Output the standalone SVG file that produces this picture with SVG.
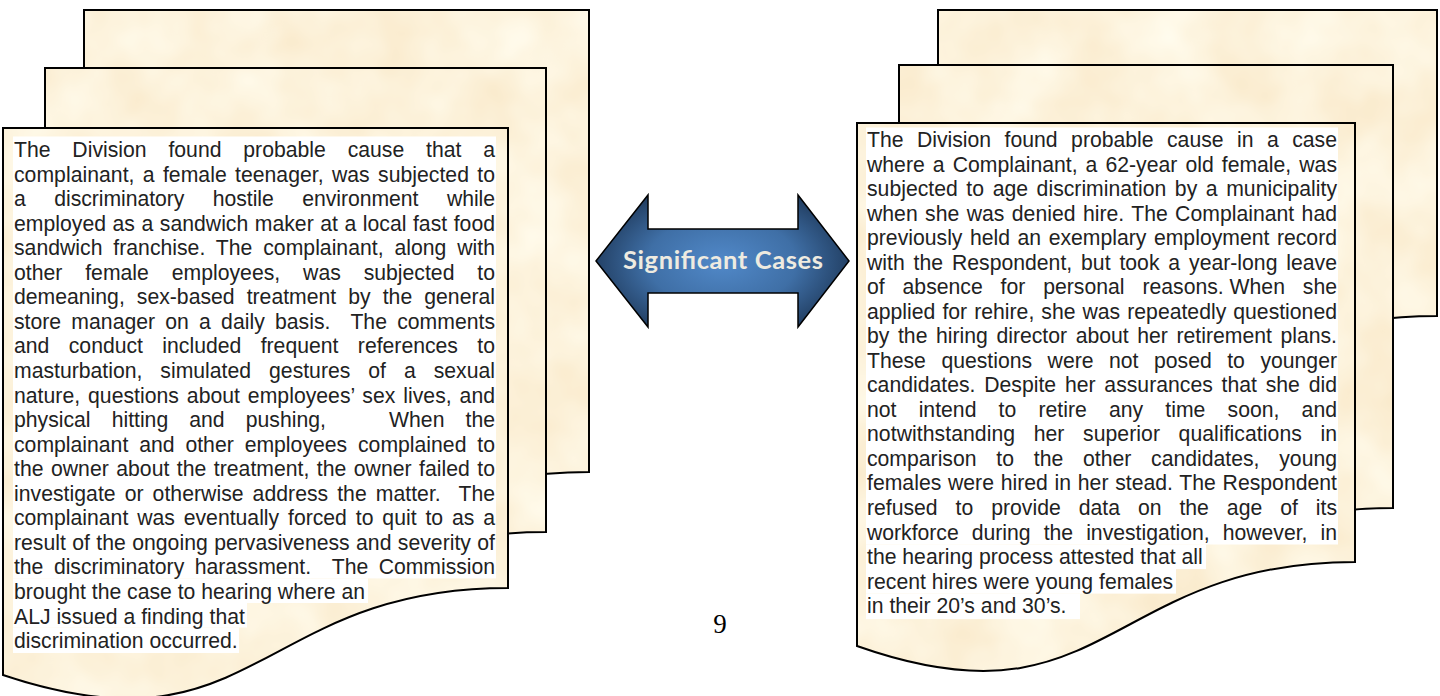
<svg xmlns="http://www.w3.org/2000/svg" width="1440" height="696" viewBox="0 0 1440 696">
<style>
.sheet{fill:#fff;filter:url(#tex)}
.edge{fill:none;stroke:#000;stroke-width:2;stroke-linejoin:miter}
.hl{fill:#fff}
.body{font-family:"Liberation Sans",Arial,sans-serif;font-size:21.2px;fill:#222}
.lbl{font-family:Lato,"Open Sans",sans-serif;font-weight:bold;font-size:25.5px;fill:#eeebe0}
.pg{font-family:"Liberation Serif","Times New Roman",serif;font-size:27px;fill:#000}
</style>
<defs>
<filter id="tex" x="0" y="0" width="1" height="1" color-interpolation-filters="sRGB">
<feTurbulence type="fractalNoise" baseFrequency="0.014" numOctaves="3" seed="7" result="n"/>
<feColorMatrix in="n" type="matrix" values="0.03 0 0 0 0.975  0.09 0 0 0 0.905  0.17 0 0 0 0.775  0 0 0 0 1" result="c"/>
<feComposite in="c" in2="SourceAlpha" operator="in"/>
</filter>
<radialGradient id="blue" gradientUnits="userSpaceOnUse" cx="722" cy="262" r="135" gradientTransform="translate(722 262) scale(1 0.6) translate(-722 -262)">
<stop offset="0" stop-color="#5189c9"/>
<stop offset="0.55" stop-color="#3f6fa6"/>
<stop offset="1" stop-color="#1f3a5c"/>
</radialGradient>
</defs>

<g id="left-stack">
<g id="left-back-sheet">
<path class="sheet" d="M84,10 H589 V472 C336,472 336,644 84,559 Z"/>
<path class="edge" d="M84,10 H589 V472 C336,472 336,644 84,559 Z"/>
</g>
<g id="left-middle-sheet">
<path class="sheet" d="M45,68 H546 V532 C295,532 295,704 45,619 Z"/>
<path class="edge" d="M45,68 H546 V532 C295,532 295,704 45,619 Z"/>
</g>
<g id="left-front-sheet">
<path class="sheet" d="M3,128 H508 V588 C256,588 256,760 3,675 Z"/>
<path class="edge" d="M3,128 H508 V588 C256,588 256,760 3,675 Z"/>
<rect class="hl" x="13" y="136.5" width="483" height="441.9"/>
<rect class="hl" x="13" y="578.4" width="355" height="24.6"/>
<rect class="hl" x="13" y="602.9" width="234" height="24.6"/>
<rect class="hl" x="13" y="627.5" width="226" height="25.5"/>
<g class="body">
<text x="14" y="157" word-spacing="15.9" textLength="481">The Division found probable cause that a</text>
<text x="14" y="181.6" word-spacing="2.4" textLength="481">complainant, a female teenager, was subjected to</text>
<text x="14" y="206.1" word-spacing="22.7" textLength="481">a discriminatory hostile environment while</text>
<text x="14" y="230.7" word-spacing="0.6" textLength="481">employed as a sandwich maker at a local fast food</text>
<text x="14" y="255.2" word-spacing="5" textLength="481">sandwich franchise. The complainant, along with</text>
<text x="14" y="279.8" word-spacing="17" textLength="481">other female employees, was subjected to</text>
<text x="14" y="304.3" word-spacing="6.2" textLength="481">demeaning, sex-based treatment by the general</text>
<text x="14" y="328.9" word-spacing="4.3" textLength="481" xml:space="preserve">store manager on a daily basis.  The comments</text>
<text x="14" y="353.4" word-spacing="13.5" textLength="481">and conduct included frequent references to</text>
<text x="14" y="378" word-spacing="12.1" textLength="481">masturbation, simulated gestures of a sexual</text>
<text x="14" y="402.5" word-spacing="2" textLength="481">nature, questions about employees’ sex lives, and</text>
<text x="14" y="427.1" word-spacing="15.2" textLength="481" xml:space="preserve">physical hitting and pushing,   When the</text>
<text x="14" y="451.6" word-spacing="5" textLength="481">complainant and other employees complained to</text>
<text x="14" y="476.2" word-spacing="1.65" textLength="481">the owner about the treatment, the owner failed to</text>
<text x="14" y="500.7" word-spacing="3.1" textLength="481" xml:space="preserve">investigate or otherwise address the matter.  The</text>
<text x="14" y="525.3" word-spacing="3" textLength="481">complainant was eventually forced to quit to as a</text>
<text x="14" y="549.8" word-spacing="0.5" textLength="481">result of the ongoing pervasiveness and severity of</text>
<text x="14" y="574.4" word-spacing="4.7" textLength="481" xml:space="preserve">the discriminatory harassment.  The Commission</text>
<text x="14" y="598.9">brought the case to hearing where an</text>
<text x="14" y="623.5">ALJ issued a finding that</text>
<text x="14" y="648">discrimination occurred.</text>
</g>
</g>
</g>

<g id="right-stack">
<g id="right-back-sheet">
<path class="sheet" d="M938,10 H1437 V316 C1187,316 1187,488 938,400 Z"/>
<path class="edge" d="M938,10 H1437 V316 C1187,316 1187,488 938,400 Z"/>
</g>
<g id="right-middle-sheet">
<path class="sheet" d="M899,65 H1393 V508 C1146,508 1146,680 899,592 Z"/>
<path class="edge" d="M899,65 H1393 V508 C1146,508 1146,680 899,592 Z"/>
</g>
<g id="right-front-sheet">
<path class="sheet" d="M857,123 H1355 V562 C1106,562 1106,734 857,646 Z"/>
<path class="edge" d="M857,123 H1355 V562 C1106,562 1106,734 857,646 Z"/>
<rect class="hl" x="866" y="127.5" width="472" height="417"/>
<rect class="hl" x="866" y="544.5" width="340" height="24.6"/>
<rect class="hl" x="866" y="569" width="310" height="24.6"/>
<rect class="hl" x="866" y="593.6" width="214" height="25.5"/>
<g class="body">
<text x="867" y="147" word-spacing="7.6" textLength="470">The Division found probable cause in a case</text>
<text x="867" y="171.5" word-spacing="2.2" textLength="470">where a Complainant, a 62-year old female, was</text>
<text x="867" y="196.1" word-spacing="2.7" textLength="470">subjected to age discrimination by a municipality</text>
<text x="867" y="220.6" word-spacing="1.5" textLength="470">when she was denied hire. The Complainant had</text>
<text x="867" y="245.1" word-spacing="1.6" textLength="470">previously held an exemplary employment record</text>
<text x="867" y="269.7" word-spacing="3" textLength="470">with the Respondent, but took a year-long leave</text>
<text x="867" y="294.2" word-spacing="12" textLength="470">of absence for personal <tspan word-spacing="0">reasons. When</tspan> she</text>
<text x="867" y="318.7" word-spacing="1.15" textLength="470">applied for rehire, she was repeatedly questioned</text>
<text x="867" y="343.2" word-spacing="2.7" textLength="470">by the hiring director about her retirement plans.</text>
<text x="867" y="367.8" word-spacing="9.6" textLength="470">These questions were not posed to younger</text>
<text x="867" y="392.3" word-spacing="2.9" textLength="470">candidates. Despite her assurances that she did</text>
<text x="867" y="416.8" word-spacing="16.3" textLength="470">not intend to retire any time soon, and</text>
<text x="867" y="441.4" word-spacing="12.6" textLength="470">notwithstanding her superior qualifications in</text>
<text x="867" y="465.9" word-spacing="13.9" textLength="470">comparison to the other candidates, young</text>
<text x="867" y="490.4" word-spacing="0.8" textLength="470">females were hired in her stead. The Respondent</text>
<text x="867" y="515" word-spacing="12.1" textLength="470">refused to provide data on the age of its</text>
<text x="867" y="539.5" word-spacing="7.2" textLength="470">workforce during the investigation, however, in</text>
<text x="867" y="564">the hearing process attested that all</text>
<text x="867" y="588.5">recent hires were young females</text>
<text x="867" y="613.1">in their 20’s and 30’s.</text>
</g>
</g>
</g>

<g id="significant-cases">
<path d="M596,261 L648,195 L648,229 L798,229 L798,195 L849,261 L798,327 L798,293 L648,293 L648,327 Z" fill="url(#blue)" stroke="#000" stroke-width="1.5" stroke-linejoin="miter"/>
<text class="lbl" x="723" y="269" text-anchor="middle" textLength="200">Significant Cases</text>
</g>

<g id="connectors"></g>

<g id="page-number">
<text class="pg" x="720" y="633" text-anchor="middle">9</text>
</g>
</svg>
